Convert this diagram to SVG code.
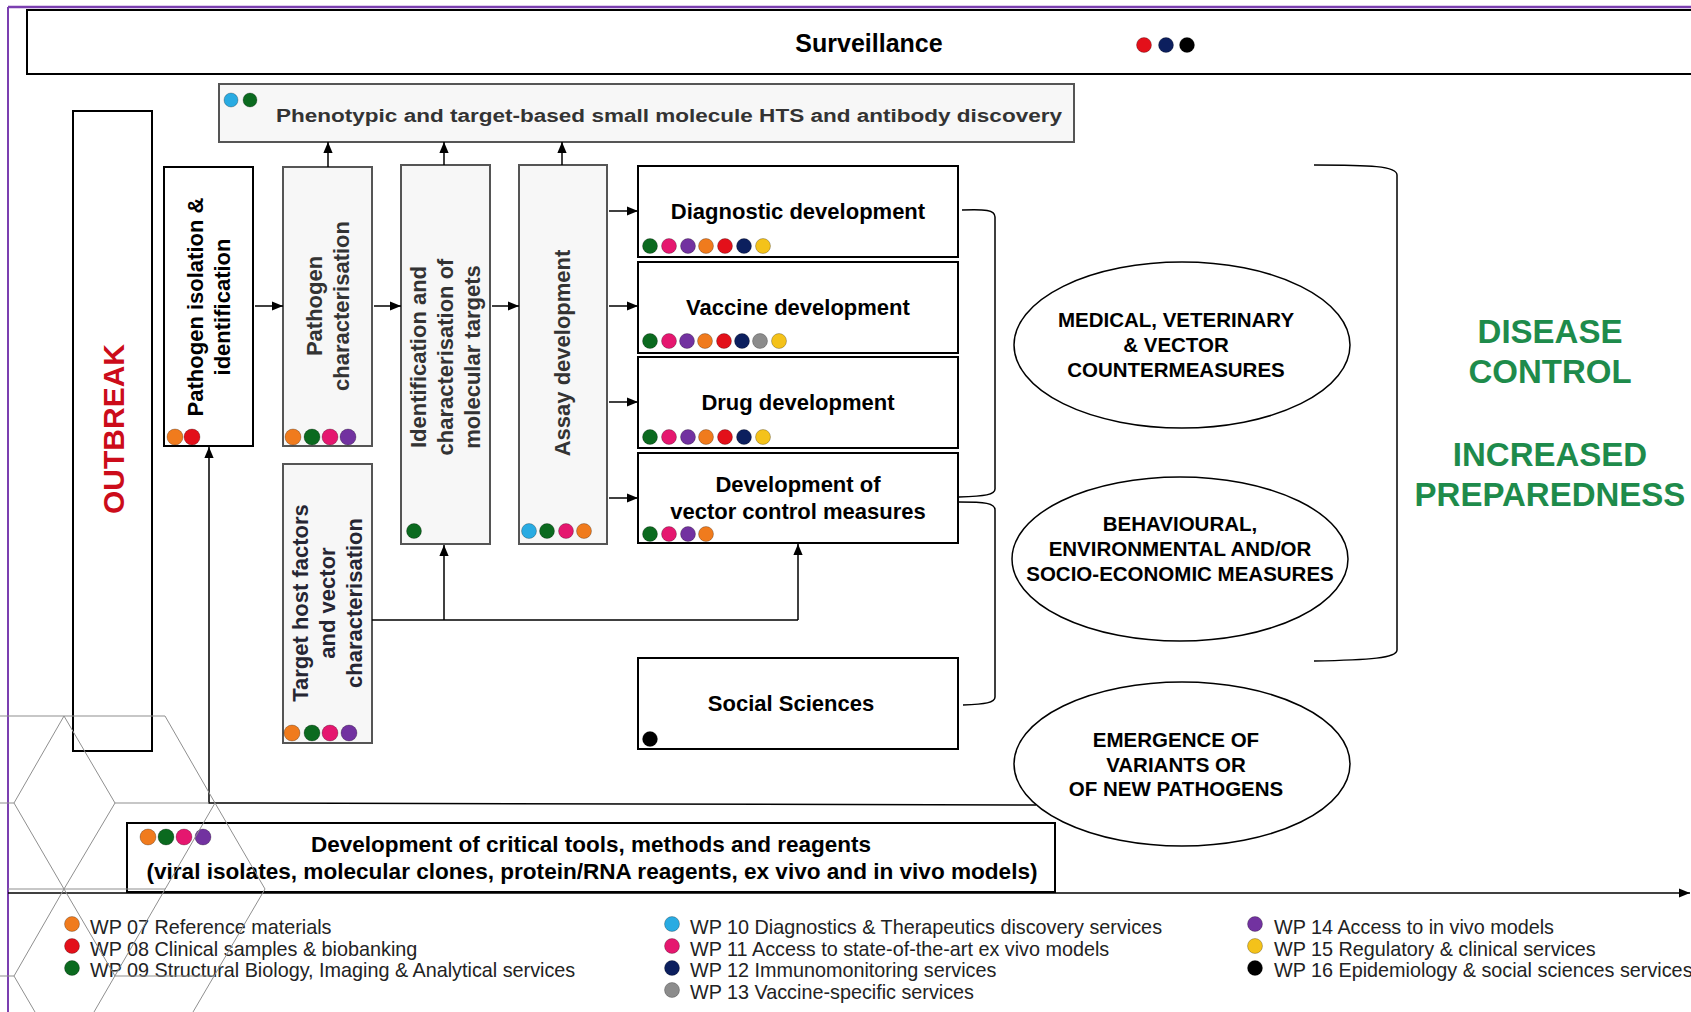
<svg xmlns="http://www.w3.org/2000/svg" width="1691" height="1012" viewBox="0 0 1691 1012">
<defs>
<marker id="arr" viewBox="0 0 10 10" refX="10" refY="5" markerWidth="11" markerHeight="11" markerUnits="userSpaceOnUse" orient="auto"><path d="M0,0.8 L10,5 L0,9.2 z" fill="#000"/></marker>
</defs>
<style>
.box{fill:#fff;stroke:#000;stroke-width:2}
.gbox{fill:#f7f7f7;stroke:#555;stroke-width:2}
.t{font-family:"Liberation Sans",Arial,Helvetica,sans-serif;font-weight:bold;font-size:22px;fill:#000;text-anchor:middle}
.g{fill:#333}
.el{font-size:20.5px}
.gr{font-size:33px;fill:#1e8b4b}
.ob{font-size:30px;fill:#cc0c1a}
.leg{font-family:"Liberation Sans",Arial,Helvetica,sans-serif;font-size:19.8px;fill:#222}
.ln{stroke:#000;stroke-width:1.5;fill:none}
.hex{stroke:#8f8f8f;stroke-width:1;fill:none}
.ell{fill:#fff;stroke:#000;stroke-width:1.5}
.d{stroke:#000;stroke-opacity:0.25;stroke-width:1}
.or{fill:#f07b1d}.rd{fill:#e3101a}.gn{fill:#0b6a1f}.cy{fill:#29abe2}.pk{fill:#e5176f}
.nv{fill:#0c1f5e}.gy{fill:#8c8c8c}.pu{fill:#7232a0}.ye{fill:#f4c21a}.bk{fill:#000}
</style>

<!-- frame -->
<line x1="8" y1="7" x2="1691" y2="7" stroke="#7b3fb0" stroke-width="2.5"/>
<line x1="8" y1="7" x2="8" y2="1012" stroke="#7b3fb0" stroke-width="2"/>

<g id="surveillance">
<rect class="box" x="27" y="10" width="1680" height="64"/>
<text class="t" x="869" y="52" style="font-size:25px">Surveillance</text>
<circle class="d rd" cx="1144" cy="45" r="7.5"/>
<circle class="d nv" cx="1166" cy="45" r="7.5"/>
<circle class="d bk" cx="1187" cy="45" r="7.5"/>
</g>

<g id="phenotypic">
<rect class="gbox" x="219" y="84" width="855" height="58"/>
<circle class="d cy" cx="231" cy="100" r="7"/>
<circle class="d gn" cx="250" cy="100" r="7"/>
<text class="t g" x="276" y="122" style="font-size:18px;text-anchor:start" textLength="786" lengthAdjust="spacingAndGlyphs">Phenotypic and target-based small molecule HTS and antibody discovery</text>
</g>

<g id="outbreak">
<rect class="box" x="73" y="111" width="79" height="640"/>
<text class="t ob" transform="translate(124,429) rotate(-90)">OUTBREAK</text>
</g>

<g id="pathogen-isolation">
<rect class="box" x="164" y="167" width="89" height="279"/>
<text class="t" transform="translate(203,307) rotate(-90)"><tspan x="0" y="0">Pathogen isolation &amp;</tspan><tspan x="0" y="27">identification</tspan></text>
<circle class="d or" cx="175" cy="437" r="8"/>
<circle class="d rd" cx="192" cy="437" r="8"/>
</g>

<g id="pathogen-characterisation">
<rect class="gbox" x="283" y="167" width="89" height="279"/>
<text class="t g" transform="translate(322,306) rotate(-90)"><tspan x="0" y="0">Pathogen</tspan><tspan x="0" y="27">characterisation</tspan></text>
<circle class="d or" cx="293" cy="437" r="8"/>
<circle class="d gn" cx="312" cy="437" r="8"/>
<circle class="d pk" cx="330" cy="437" r="8"/>
<circle class="d pu" cx="348" cy="437" r="8"/>
</g>

<g id="target-host">
<rect class="gbox" x="283" y="464" width="89" height="279"/>
<text class="t" style="fill:#262633" transform="translate(308,603) rotate(-90)"><tspan x="0" y="0">Target host factors</tspan><tspan x="0" y="27">and vector</tspan><tspan x="0" y="54">characterisation</tspan></text>
<circle class="d or" cx="292" cy="733" r="8"/>
<circle class="d gn" cx="312" cy="733" r="8"/>
<circle class="d pk" cx="330" cy="733" r="8"/>
<circle class="d pu" cx="349" cy="733" r="8"/>
</g>

<g id="identification">
<rect class="gbox" x="401" y="165" width="89" height="379"/>
<text class="t g" transform="translate(426,357) rotate(-90)"><tspan x="0" y="0">Identification and</tspan><tspan x="0" y="27">characterisation of</tspan><tspan x="0" y="54">molecular targets</tspan></text>
<circle class="d gn" cx="414" cy="531" r="7.5"/>
</g>

<g id="assay">
<rect class="gbox" x="519" y="165" width="88" height="379"/>
<text class="t g" transform="translate(570,353) rotate(-90)">Assay development</text>
<circle class="d cy" cx="529" cy="531" r="7.5"/>
<circle class="d gn" cx="547" cy="531" r="7.5"/>
<circle class="d pk" cx="566" cy="531" r="7.5"/>
<circle class="d or" cx="584" cy="531" r="7.5"/>
</g>

<g id="diagnostic">
<rect class="box" x="638" y="166" width="320" height="91"/>
<text class="t" x="798" y="219">Diagnostic development</text>
<circle class="d gn" cx="650" cy="246" r="7.5"/>
<circle class="d pk" cx="669" cy="246" r="7.5"/>
<circle class="d pu" cx="688" cy="246" r="7.5"/>
<circle class="d or" cx="706" cy="246" r="7.5"/>
<circle class="d rd" cx="725" cy="246" r="7.5"/>
<circle class="d nv" cx="744" cy="246" r="7.5"/>
<circle class="d ye" cx="763" cy="246" r="7.5"/>
</g>

<g id="vaccine">
<rect class="box" x="638" y="262" width="320" height="91"/>
<text class="t" x="798" y="315">Vaccine development</text>
<circle class="d gn" cx="650" cy="341" r="7.5"/>
<circle class="d pk" cx="669" cy="341" r="7.5"/>
<circle class="d pu" cx="687" cy="341" r="7.5"/>
<circle class="d or" cx="705" cy="341" r="7.5"/>
<circle class="d rd" cx="724" cy="341" r="7.5"/>
<circle class="d nv" cx="742" cy="341" r="7.5"/>
<circle class="d gy" cx="760" cy="341" r="7.5"/>
<circle class="d ye" cx="779" cy="341" r="7.5"/>
</g>

<g id="drug">
<rect class="box" x="638" y="357" width="320" height="91"/>
<text class="t" x="798" y="410">Drug development</text>
<circle class="d gn" cx="650" cy="437" r="7.5"/>
<circle class="d pk" cx="669" cy="437" r="7.5"/>
<circle class="d pu" cx="688" cy="437" r="7.5"/>
<circle class="d or" cx="706" cy="437" r="7.5"/>
<circle class="d rd" cx="725" cy="437" r="7.5"/>
<circle class="d nv" cx="744" cy="437" r="7.5"/>
<circle class="d ye" cx="763" cy="437" r="7.5"/>
</g>

<g id="vector-control">
<rect class="box" x="638" y="453" width="320" height="90"/>
<text class="t" x="798" y="492">Development of</text>
<text class="t" x="798" y="519">vector control measures</text>
<circle class="d gn" cx="650" cy="534" r="7.5"/>
<circle class="d pk" cx="669" cy="534" r="7.5"/>
<circle class="d pu" cx="688" cy="534" r="7.5"/>
<circle class="d or" cx="706" cy="534" r="7.5"/>
</g>

<g id="social-sciences">
<rect class="box" x="638" y="658" width="320" height="91"/>
<text class="t" x="791" y="711">Social Sciences</text>
<circle class="d bk" cx="650" cy="739" r="7.5"/>
</g>

<g id="critical-tools">
<rect class="box" x="127" y="823" width="928" height="69"/>
<circle class="d or" cx="148" cy="837" r="8"/>
<circle class="d gn" cx="166" cy="837" r="8"/>
<circle class="d pk" cx="184" cy="837" r="8"/>
<circle class="d pu" cx="203" cy="837" r="8"/>
<text class="t" x="591" y="852" textLength="560" lengthAdjust="spacingAndGlyphs">Development of critical tools, methods and reagents</text>
<text class="t" x="592" y="879" textLength="891" lengthAdjust="spacingAndGlyphs">(viral isolates, molecular clones, protein/RNA reagents, ex vivo and in vivo models)</text>
</g>

<g id="countermeasures">
<ellipse class="ell" cx="1182" cy="345" rx="168" ry="83"/>
<text class="t el" x="1176" y="327">MEDICAL, VETERINARY</text>
<text class="t el" x="1176" y="352">&amp; VECTOR</text>
<text class="t el" x="1176" y="377">COUNTERMEASURES</text>
</g>

<g id="behavioural">
<ellipse class="ell" cx="1180" cy="559" rx="168" ry="82"/>
<text class="t el" x="1180" y="531">BEHAVIOURAL,</text>
<text class="t el" x="1180" y="556">ENVIRONMENTAL AND/OR</text>
<text class="t el" x="1180" y="581">SOCIO-ECONOMIC MEASURES</text>
</g>

<g id="emergence">
<ellipse class="ell" cx="1182" cy="764" rx="168" ry="82"/>
<text class="t el" x="1176" y="747">EMERGENCE OF</text>
<text class="t el" x="1176" y="772">VARIANTS OR</text>
<text class="t el" x="1176" y="796">OF NEW PATHOGENS</text>
</g>

<g id="outcome">
<text class="t gr" x="1550" y="343">DISEASE</text>
<text class="t gr" x="1550" y="383">CONTROL</text>
<text class="t gr" x="1550" y="466">INCREASED</text>
<text class="t gr" x="1550" y="506">PREPAREDNESS</text>
</g>

<g id="connectors">
<line class="ln" x1="255" y1="306" x2="283" y2="306" marker-end="url(#arr)"/>
<line class="ln" x1="374" y1="306" x2="401" y2="306" marker-end="url(#arr)"/>
<line class="ln" x1="492" y1="306" x2="519" y2="306" marker-end="url(#arr)"/>
<line class="ln" x1="609" y1="211" x2="638" y2="211" marker-end="url(#arr)"/>
<line class="ln" x1="609" y1="306" x2="638" y2="306" marker-end="url(#arr)"/>
<line class="ln" x1="609" y1="402" x2="638" y2="402" marker-end="url(#arr)"/>
<line class="ln" x1="609" y1="498" x2="638" y2="498" marker-end="url(#arr)"/>
<line class="ln" x1="328" y1="167" x2="328" y2="142" marker-end="url(#arr)"/>
<line class="ln" x1="444" y1="165" x2="444" y2="142" marker-end="url(#arr)"/>
<line class="ln" x1="562" y1="165" x2="562" y2="142" marker-end="url(#arr)"/>
<polyline class="ln" points="372,620 798,620"/>
<line class="ln" x1="444" y1="620" x2="444" y2="545" marker-end="url(#arr)"/>
<line class="ln" x1="798" y1="620" x2="798" y2="544" marker-end="url(#arr)"/>
<polyline class="ln" points="1036,805 209,803 209,447" marker-end="url(#arr)"/>
<line class="ln" x1="8" y1="893" x2="1690" y2="893" stroke-width="2" marker-end="url(#arr)"/>
<path class="ln" d="M962,210 C985,209 995,210 995,217 L995,489 C995,495 985,496 959,497"/>
<path class="ln" d="M959,502 C985,502 995,503 995,510 L995,697 C995,703 985,704 963,705"/>
<path class="ln" d="M1314,165 C1370,165 1397,166 1397,175 L1397,650 C1397,658 1370,660 1314,661"/>
</g>

<g id="legend">
<circle class="d or" cx="72" cy="924" r="7.5"/><text class="leg" x="90" y="934">WP 07 Reference materials</text>
<circle class="d rd" cx="72" cy="946" r="7.5"/><text class="leg" x="90" y="956">WP 08 Clinical samples &amp; biobanking</text>
<circle class="d gn" cx="72" cy="968" r="7.5"/><text class="leg" x="90" y="977">WP 09 Structural Biology, Imaging &amp; Analytical services</text>
<circle class="d cy" cx="672" cy="924" r="7.5"/><text class="leg" x="690" y="934">WP 10 Diagnostics &amp; Therapeutics discovery services</text>
<circle class="d pk" cx="672" cy="946" r="7.5"/><text class="leg" x="690" y="956">WP 11 Access to state-of-the-art ex vivo models</text>
<circle class="d nv" cx="672" cy="968" r="7.5"/><text class="leg" x="690" y="977">WP 12 Immunomonitoring services</text>
<circle class="d gy" cx="672" cy="990" r="7.5"/><text class="leg" x="690" y="999">WP 13 Vaccine-specific services</text>
<circle class="d pu" cx="1255" cy="924" r="7.5"/><text class="leg" x="1274" y="934">WP 14 Access to in vivo models</text>
<circle class="d ye" cx="1255" cy="946" r="7.5"/><text class="leg" x="1274" y="956">WP 15 Regulatory &amp; clinical services</text>
<circle class="d bk" cx="1255" cy="968" r="7.5"/><text class="leg" x="1274" y="977">WP 16 Epidemiology &amp; social sciences services</text>
</g>

<g id="hex-pattern">
<path class="hex" d="M0,716 H165 M0,803 H14 M115,803 H209 M8,889 H165 M0,976 H14 M115,976 H215
M64,716 L14,803 M64,716 L115,803 M165,716 L215,803
M14,803 L64,889 M115,803 L64,889 M215,803 L94,1012 M215,803 L265,889 L193,1012
M64,889 L14,976 L35,1012 M64,889 L115,976"/>
</g>
</svg>
